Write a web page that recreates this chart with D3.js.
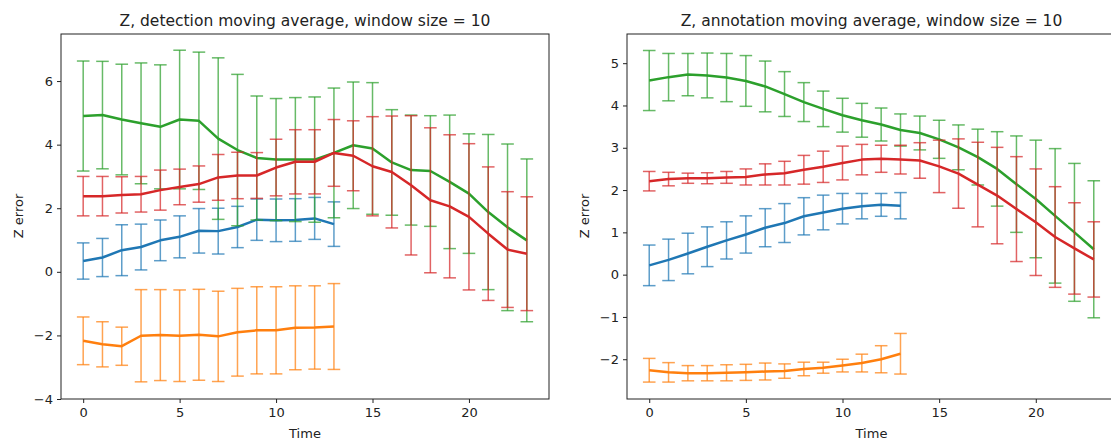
<!DOCTYPE html>
<html>
<head>
<meta charset="utf-8">
<script src="https://cdn.jsdelivr.net/npm/d3@7"></script>
<style>
  body { margin: 0; background: #fff; }
  svg text { font-family: "DejaVu Sans", sans-serif; fill: #222; }
</style>
</head>
<body>
<div id="chart"></div>
<script>
// time steps
const timeLong = [0,1,2,3,4,5,6,7,8,9,10,11,12,13,14,15,16,17,18,19,20,21,22,23];
const timeShort = [0,1,2,3,4,5,6,7,8,9,10,11,12,13];

// detection panel (left)
const detBlueMean = [0.34,0.45,0.68,0.78,0.99,1.10,1.29,1.28,1.41,1.64,1.62,1.63,1.68,1.50];
const detBlueStd  = [0.57,0.60,0.80,0.72,0.64,0.66,0.70,0.72,0.65,0.65,0.67,0.67,0.66,0.70];
const detOrangeMean = [-2.17,-2.28,-2.34,-2.01,-1.99,-2.01,-1.98,-2.03,-1.90,-1.84,-1.84,-1.76,-1.75,-1.72];
const detOrangeStd  = [0.75,0.71,0.60,1.45,1.43,1.44,1.43,1.42,1.38,1.37,1.37,1.32,1.31,1.35];
const detGreenMean = [4.90,4.93,4.79,4.67,4.56,4.79,4.75,4.19,3.83,3.58,3.53,3.53,3.53,3.74,3.98,3.88,3.44,3.20,3.17,2.83,2.46,1.88,1.40,0.99];
const detGreenStd  = [1.73,1.69,1.74,1.90,1.95,2.18,2.16,2.54,2.38,1.95,1.92,1.95,1.97,2.04,1.99,2.07,1.66,1.73,1.74,2.10,1.88,2.44,2.62,2.56];
const detRedMean = [2.38,2.38,2.42,2.44,2.57,2.67,2.76,2.97,3.03,3.03,3.28,3.46,3.46,3.74,3.65,3.32,3.14,2.72,2.25,2.06,1.73,1.20,0.70,0.57];
const detRedStd  = [0.62,0.62,0.57,0.56,0.63,0.56,0.57,0.72,0.73,0.72,0.89,1.01,1.01,1.05,1.10,1.56,1.76,2.19,2.28,2.25,2.30,2.10,1.82,1.79];

// annotation panel (right)
const annBlueMean = [0.22,0.35,0.50,0.66,0.81,0.95,1.11,1.22,1.38,1.47,1.56,1.62,1.65,1.63];
const annBlueStd  = [0.48,0.49,0.48,0.47,0.44,0.44,0.45,0.46,0.44,0.41,0.36,0.30,0.27,0.31];
const annOrangeMean = [-2.26,-2.31,-2.33,-2.33,-2.32,-2.31,-2.29,-2.28,-2.23,-2.20,-2.15,-2.09,-2.00,-1.87];
const annOrangeStd  = [0.28,0.23,0.18,0.18,0.19,0.19,0.20,0.17,0.16,0.13,0.15,0.21,0.32,0.48];
const annGreenMean = [4.59,4.67,4.73,4.71,4.66,4.58,4.45,4.27,4.08,3.92,3.77,3.65,3.55,3.42,3.35,3.20,3.01,2.78,2.50,2.14,1.79,1.39,1.00,0.60];
const annGreenStd  = [0.71,0.56,0.50,0.53,0.57,0.60,0.60,0.53,0.46,0.42,0.40,0.40,0.39,0.38,0.40,0.45,0.53,0.66,0.88,1.14,1.39,1.59,1.63,1.62];
const annRedMean = [2.21,2.26,2.28,2.28,2.30,2.31,2.37,2.40,2.48,2.55,2.64,2.72,2.74,2.72,2.70,2.56,2.39,2.13,1.87,1.55,1.24,0.89,0.62,0.36];
const annRedStd  = [0.23,0.16,0.12,0.13,0.14,0.19,0.25,0.28,0.34,0.37,0.40,0.36,0.32,0.34,0.42,0.62,0.82,1.00,1.14,1.24,1.26,1.19,1.08,0.89];

const xTicks = [0,5,10,15,20];
const detYTicks = [-4,-2,0,2,4,6];
const annYTicks = [-2,-1,0,1,2,3,4,5];

const colors = { blue: "#1f77b4", orange: "#ff7f0e", green: "#2ca02c", red: "#d62728" };

const W = 1111, H = 441;
const svg = d3.select("#chart").append("svg")
    .attr("width", W)
    .attr("height", H);

function drawPanel(cfg) {
    const x = d3.scaleLinear().domain([-1.15, 24.15]).range([cfg.left, cfg.right]);
    const y = d3.scaleLinear().domain(cfg.yDomain).range([399, 34]);
    const g = svg.append("g");

    const clipId = "clip" + cfg.id;
    g.append("clipPath").attr("id", clipId)
      .append("rect")
        .attr("x", cfg.left).attr("y", 34)
        .attr("width", cfg.right - cfg.left).attr("height", 365);

    const plot = g.append("g").attr("clip-path", `url(#${clipId})`);
    const cap = 6.3;

    cfg.series.forEach(s => {
        const pts = s.time.map((t, i) => ({ t: t, m: s.mean[i], sd: s.std[i] }));
        const eb = plot.append("g")
            .attr("stroke", s.color)
            .attr("stroke-width", 1.5)
            .attr("stroke-opacity", 0.72)
            .attr("fill", "none");
        pts.forEach(p => {
            const cx = x(p.t), y1 = y(p.m + p.sd), y2 = y(p.m - p.sd);
            eb.append("line").attr("x1", cx).attr("x2", cx).attr("y1", y1).attr("y2", y2);
            eb.append("line").attr("x1", cx - cap).attr("x2", cx + cap).attr("y1", y1).attr("y2", y1);
            eb.append("line").attr("x1", cx - cap).attr("x2", cx + cap).attr("y1", y2).attr("y2", y2);
        });
        plot.append("path")
            .datum(pts)
            .attr("fill", "none")
            .attr("stroke", s.color)
            .attr("stroke-width", 2.5)
            .attr("stroke-linejoin", "round")
            .attr("d", d3.line().x(d => x(d.t)).y(d => y(d.m)));
    });

    // frame
    g.append("rect")
        .attr("x", cfg.left).attr("y", 34)
        .attr("width", cfg.right - cfg.left).attr("height", 365)
        .attr("fill", "none").attr("stroke", "#222").attr("stroke-width", 1);

    const xAxis = g.append("g")
        .attr("transform", "translate(0,399)")
        .call(d3.axisBottom(x).tickValues(xTicks).tickSize(4).tickPadding(5));
    const yAxis = g.append("g")
        .attr("transform", `translate(${cfg.left},0)`)
        .call(d3.axisLeft(y).tickValues(cfg.yTicks).tickSize(4).tickPadding(4));
    [xAxis, yAxis].forEach(a => {
        a.select(".domain").remove();
        a.selectAll(".tick line").attr("stroke", "#222");
        a.selectAll(".tick text").attr("font-size", 13).attr("font-family", "DejaVu Sans").attr("fill", "#222");
    });

    g.append("text")
        .attr("x", (cfg.left + cfg.right) / 2).attr("y", 26)
        .attr("text-anchor", "middle").attr("font-size", 15.5)
        .text(cfg.title);
    g.append("text")
        .attr("x", (cfg.left + cfg.right) / 2).attr("y", 438)
        .attr("text-anchor", "middle").attr("font-size", 13)
        .text("Time");
    g.append("text")
        .attr("transform", `translate(${cfg.left - 38},216) rotate(-90)`)
        .attr("text-anchor", "middle").attr("font-size", 13)
        .text("Z error");
}

drawPanel({
    id: "det", left: 61, right: 549, yDomain: [-4.0, 7.48], yTicks: detYTicks,
    title: "Z, detection moving average, window size = 10",
    series: [
        { time: timeShort, mean: detBlueMean, std: detBlueStd, color: colors.blue },
        { time: timeShort, mean: detOrangeMean, std: detOrangeStd, color: colors.orange },
        { time: timeLong, mean: detGreenMean, std: detGreenStd, color: colors.green },
        { time: timeLong, mean: detRedMean, std: detRedStd, color: colors.red }
    ]
});

drawPanel({
    id: "ann", left: 627, right: 1116, yDomain: [-2.94, 5.69], yTicks: annYTicks,
    title: "Z, annotation moving average, window size = 10",
    series: [
        { time: timeShort, mean: annBlueMean, std: annBlueStd, color: colors.blue },
        { time: timeShort, mean: annOrangeMean, std: annOrangeStd, color: colors.orange },
        { time: timeLong, mean: annGreenMean, std: annGreenStd, color: colors.green },
        { time: timeLong, mean: annRedMean, std: annRedStd, color: colors.red }
    ]
});
</script>
</body>
</html>
